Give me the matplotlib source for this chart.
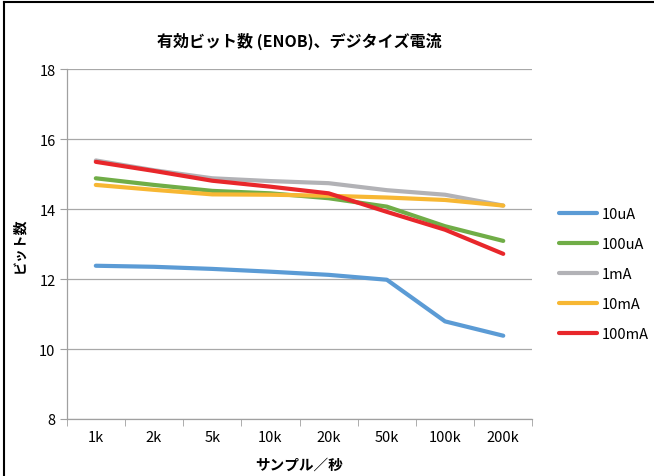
import matplotlib.pyplot as plt
import numpy as np
from matplotlib.lines import Line2D

plt.rcParams['font.family'] = ['Noto Sans CJK JP', 'DejaVu Sans']

# data
rates = ['1k', '2k', '5k', '10k', '20k', '50k', '100k', '200k']
enob_10uA = [12.38, 12.35, 12.29, 12.21, 12.12, 11.98, 10.79, 10.38]
enob_100uA = [14.88, 14.69, 14.52, 14.45, 14.31, 14.07, 13.51, 13.09]
enob_1mA = [15.39, 15.11, 14.88, 14.80, 14.74, 14.54, 14.41, 14.10]
enob_10mA = [14.69, 14.55, 14.42, 14.41, 14.38, 14.33, 14.26, 14.10]
enob_100mA = [15.35, 15.09, 14.81, 14.64, 14.45, 13.92, 13.41, 12.72]
series_names = ['10uA', '100uA', '1mA', '10mA', '100mA']
colors = ['#5b9bd5', '#70ad47', '#b2b2b6', '#f7b733', '#e8272b']

fig = plt.figure(figsize=(6.54, 4.77), dpi=100)
ax = fig.add_axes([0.102, 0.1195, 0.712, 0.7335])

x = np.arange(len(rates))
all_series = [enob_10uA, enob_100uA, enob_1mA, enob_10mA, enob_100mA]
for vals, name, c in zip(all_series, series_names, colors):
    ax.plot(x, vals, color=c, lw=3.0, label=name, solid_capstyle='round')

ax.set_xlim(-0.5, len(rates) - 0.5)
ax.set_ylim(8, 18)
ax.set_yticks([8, 10, 12, 14, 16, 18])
ax.set_xticks(x)
ax.set_xticklabels(rates)
ax.set_xticks(np.arange(-0.5, len(rates)), minor=True)
ax.tick_params(axis='x', which='major', length=0, pad=8, labelsize=10.5)
ax.tick_params(axis='x', which='minor', length=5, color='#a0a0a0', direction='out')
ax.tick_params(axis='y', length=5, color='#a0a0a0', labelsize=10.5, pad=3)

ax.grid(axis='y', color='#a8a8a8', lw=0.9)
ax.set_axisbelow(True)
for s in ['top', 'right']:
    ax.spines[s].set_visible(False)
for s in ['left', 'bottom']:
    ax.spines[s].set_color('#a0a0a0')
    ax.spines[s].set_linewidth(0.9)

ax.set_title('有効ビット数 (ENOB)、デジタイズ電流', fontsize=11.5, fontweight='bold', pad=17)
ax.set_xlabel('サンプル／秒', fontsize=10.5, fontweight='bold', labelpad=8)
ax.set_ylabel('ビット数', fontsize=10, fontweight='bold', labelpad=9)

ax.legend(loc='center left', bbox_to_anchor=(1.03, 0.414), frameon=False,
          fontsize=10.5, handlelength=2.6, handletextpad=0.3, labelspacing=1.1)

# outer frame (top and left edges visible)
fig.add_artist(Line2D([0.006, 1.0], [0.994, 0.994], transform=fig.transFigure, color='black', lw=1.5))
fig.add_artist(Line2D([0.006, 0.006], [0.0, 0.994], transform=fig.transFigure, color='black', lw=1.5))

fig.savefig('out.png', dpi=100)
